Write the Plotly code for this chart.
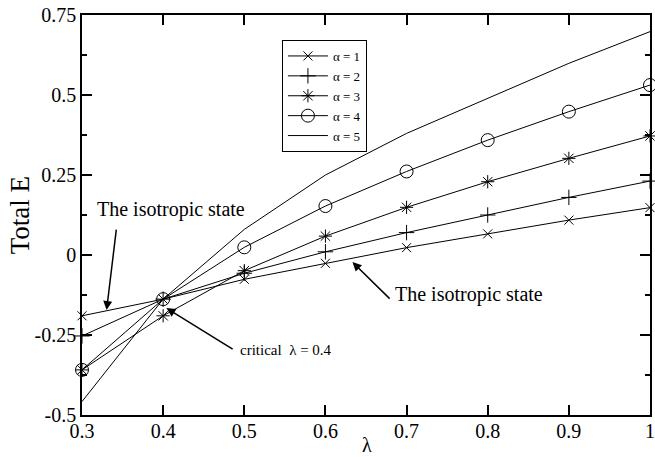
import plotly.graph_objects as go

lam = [0.3, 0.4, 0.5, 0.6, 0.7, 0.8, 0.9, 1.0]
e_a1 = [-0.19, -0.138, -0.076, -0.026, 0.023, 0.066, 0.109, 0.148]
e_a2 = [-0.253, -0.138, -0.057, 0.010, 0.070, 0.125, 0.180, 0.231]
e_a3 = [-0.359, -0.19, -0.049, 0.059, 0.149, 0.229, 0.302, 0.372]
e_a4 = [-0.359, -0.138, 0.024, 0.153, 0.261, 0.359, 0.448, 0.531]
e_a5 = [-0.458, -0.138, 0.08, 0.25, 0.38, 0.49, 0.599, 0.698]

names = ["α = 1", "α = 2", "α = 3", "α = 4", "α = 5"]
series = [e_a1, e_a2, e_a3, e_a4, e_a5]
symbols = ["x-thin", "cross-thin", "asterisk", "circle-open", None]
msizes = [9, 11, 11, 13, 0]

xticks = [0.3, 0.4, 0.5, 0.6, 0.7, 0.8, 0.9, 1.0]
xticktext = ["0.3", "0.4", "0.5", "0.6", "0.7", "0.8", "0.9", "1"]
yticks = [-0.5, -0.25, 0, 0.25, 0.5, 0.75]
yticktext = ["-0.5", "-0.25", "0", "0.25", "0.5", "0.75"]

FONT = "Liberation Serif"

fig = go.Figure()
for name, ys, sym, ms in zip(names, series, symbols, msizes):
    if sym is None:
        fig.add_trace(go.Scatter(x=lam, y=ys, mode="lines", name=name, cliponaxis=False,
                                 line=dict(color="black", width=1)))
    else:
        fig.add_trace(go.Scatter(x=lam, y=ys, mode="lines+markers", name=name,
                                 cliponaxis=False,
                                 line=dict(color="black", width=1),
                                 marker=dict(symbol=sym, size=ms, color="black",
                                             line=dict(color="black", width=1))))

arrow = dict(showarrow=True, arrowhead=2, arrowsize=1.2, arrowwidth=1.5,
             arrowcolor="black", axref="x", ayref="y", xref="x", yref="y",
             text="", standoff=0, startstandoff=0)
fig.add_annotation(x=0.3303, y=-0.172, ax=0.3425, ay=0.084, **arrow)
fig.add_annotation(x=0.6333, y=-0.022, ax=0.681, ay=-0.141, **arrow)
fig.add_annotation(x=0.404, y=-0.166, ax=0.4875, ay=-0.297, **arrow)

fig.add_annotation(x=0.41, y=0.141, xref="x", yref="y", text="The isotropic state",
                   showarrow=False, font=dict(family=FONT, size=20, color="black"))
fig.add_annotation(x=0.6835, y=-0.122, xref="x", yref="y", text="The isotropic state",
                   showarrow=False, xanchor="left",
                   font=dict(family=FONT, size=20, color="black"))
fig.add_annotation(x=0.4925, y=-0.297, xref="x", yref="y", text="critical  λ = 0.4",
                   showarrow=False, xanchor="left",
                   font=dict(family=FONT, size=15, color="black"))

# axis titles
fig.add_annotation(x=-0.1086, y=0.5, xref="paper", yref="paper", text="Total E",
                   textangle=-90, showarrow=False, xanchor="center", yanchor="middle",
                   font=dict(family=FONT, size=27, color="black"))
fig.add_annotation(x=0.5009, y=-0.075, xref="paper", yref="paper", text="λ",
                   showarrow=False, xanchor="center", yanchor="middle",
                   font=dict(family=FONT, size=20, color="black"))

axis_common = dict(showline=True, linecolor="black", linewidth=1.5, mirror="allticks",
                   ticks="inside", ticklen=10, tickwidth=1.5, tickcolor="black",
                   showgrid=False, zeroline=False, automargin=False,
                   ticklabeloverflow="allow",
                   tickfont=dict(family=FONT, size=20, color="black"))

fig.update_xaxes(range=[0.3, 1.0], tickvals=xticks, ticktext=xticktext,
                 ticklabelstandoff=-3, **axis_common)
fig.update_yaxes(range=[-0.5, 0.75], tickvals=yticks, ticktext=yticktext,
                 minor=dict(dtick=0.125, tick0=0, ticks="inside", ticklen=5,
                            tickcolor="black", tickwidth=1.5),
                 **axis_common)

fig.update_layout(
    width=655, height=457,
    margin=dict(l=82, r=5, t=15, b=42, autoexpand=False),
    plot_bgcolor="white", paper_bgcolor="white",
    font=dict(family=FONT, color="black"),
    legend=dict(x=0.352, y=0.9375, xanchor="left", yanchor="top",
                bordercolor="black", borderwidth=1, bgcolor="white",
                font=dict(family=FONT, size=13, color="black"),
                tracegroupgap=0, itemwidth=40),
    showlegend=True,
)

fig.write_html("out.html", config={"displayModeBar": False},
               post_script="document.body.style.margin='0px';document.body.style.overflow='hidden';")
